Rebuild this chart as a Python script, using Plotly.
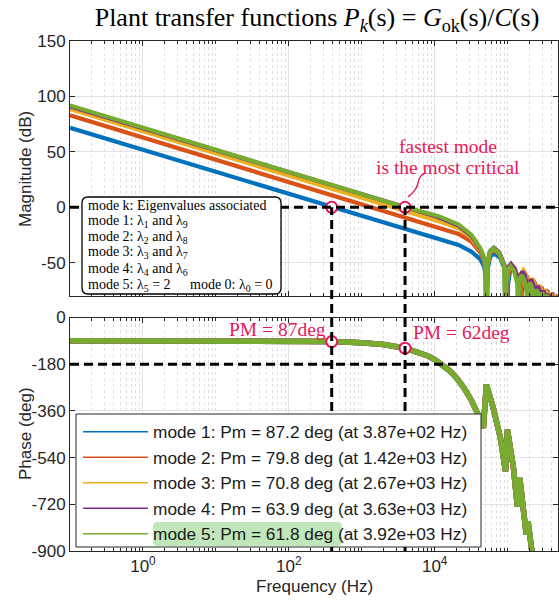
import math
import plotly.graph_objects as go

# ---------------- data ----------------
MODE_NAMES = ["mode 1", "mode 2", "mode 3", "mode 4", "mode 5"]
PM_DEG = [87.2, 79.8, 70.8, 63.9, 61.8]
PM_HZ = [387, 1420, 2670, 3630, 3920]
COLORS = ["#0072BD", "#D95319", "#EDB120", "#7E2F8E", "#77AC30"]

# magnitude curves: log10(frequency in Hz) and gain in dB
LOGF_M1 = [-1, 3.5, 4.056, 4.327, 4.504, 4.626, 4.68, 4.70, 4.708,
           4.722, 4.760, 4.817, 4.895, 4.973, 4.996,
           5.005, 5.030, 5.068, 5.119, 5.170, 5.185,
           5.192, 5.210, 5.237, 5.274, 5.311, 5.322,
           5.327, 5.341, 5.362, 5.391, 5.420, 5.428,
           5.432, 5.444, 5.461, 5.485, 5.508, 5.515,
           5.519, 5.528, 5.542, 5.562, 5.581, 5.587,
           5.590, 5.598, 5.611, 5.627, 5.644, 5.649,
           5.652, 5.659, 5.670, 5.685, 5.700, 5.704]
DB_M1 = [71.8, -18.2, -29, -34, -40, -47, -54, -63, -130,
         -56.5, -44.5, -41.5, -45.5, -57.5, -130,
         -70, -58, -55, -59, -71, -130,
         -76, -64, -61, -65, -77, -130,
         -82, -70, -67, -71, -83, -130,
         -87, -75, -72, -76, -88, -130,
         -90, -78, -75, -79, -91, -130,
         -92, -80, -77, -81, -93, -130,
         -94, -82, -79, -83, -95, -130]

LOGF_M2 = [-1, 3.5, 4.056, 4.327, 4.504, 4.626, 4.68, 4.70, 4.708,
           4.722, 4.758, 4.814, 4.889, 4.965, 4.987,
           4.996, 5.020, 5.058, 5.108, 5.158, 5.173,
           5.180, 5.197, 5.224, 5.260, 5.296, 5.307,
           5.312, 5.326, 5.347, 5.375, 5.404, 5.412,
           5.416, 5.427, 5.444, 5.467, 5.490, 5.497,
           5.501, 5.510, 5.524, 5.543, 5.562, 5.568,
           5.571, 5.579, 5.592, 5.608, 5.625, 5.630,
           5.633, 5.640, 5.651, 5.666, 5.681, 5.685]
DB_M2 = [83.0, -7.0, -18.5, -24, -31, -41, -49, -59, -130,
         -53.5, -41.5, -38.5, -42.5, -54.5, -130,
         -68, -56, -53, -57, -69, -130,
         -73, -61, -58, -62, -74, -130,
         -80, -68, -65, -69, -81, -130,
         -86, -74, -71, -75, -87, -130,
         -89, -77, -74, -78, -90, -130,
         -92, -80, -77, -81, -93, -130,
         -94, -82, -79, -83, -95, -130]

LOGF_M3 = [-1, 3.5, 4.056, 4.327, 4.504, 4.626, 4.68, 4.70, 4.708,
           4.722, 4.757, 4.812, 4.886, 4.960, 4.982,
           4.991, 5.015, 5.051, 5.100, 5.149, 5.164,
           5.171, 5.187, 5.213, 5.249, 5.284, 5.294,
           5.299, 5.313, 5.334, 5.362, 5.390, 5.398,
           5.402, 5.413, 5.430, 5.452, 5.474, 5.481,
           5.485, 5.494, 5.508, 5.528, 5.547, 5.553,
           5.556, 5.564, 5.576, 5.593, 5.609, 5.614,
           5.617, 5.624, 5.634, 5.648, 5.663, 5.667, 5.72]
DB_M3 = [88.5, -1.5, -12.5, -19, -27.5, -39, -47.5, -58, -130,
         -52.5, -40.5, -37.5, -41.5, -53.5, -130,
         -66.5, -54.5, -51.5, -55.5, -67.5, -130,
         -72, -60, -57, -61, -73, -130,
         -79, -67, -64, -68, -80, -130,
         -85, -73, -70, -74, -86, -130,
         -89, -77, -74, -78, -90, -130,
         -92, -80, -77, -81, -93, -130,
         -94, -82, -79, -83, -95, -130, -130]

LOGF_M4 = [-1, 3.5, 4.056, 4.327, 4.504, 4.626, 4.68, 4.70, 4.708,
           4.722, 4.757, 4.811, 4.884, 4.956, 4.978,
           4.987, 5.010, 5.045, 5.093, 5.141, 5.155,
           5.161, 5.178, 5.204, 5.238, 5.273, 5.283,
           5.288, 5.301, 5.321, 5.349, 5.376, 5.384,
           5.388, 5.399, 5.415, 5.437, 5.459, 5.465,
           5.469, 5.478, 5.492, 5.511, 5.529, 5.535,
           5.538, 5.546, 5.558, 5.574, 5.590, 5.595,
           5.598, 5.605, 5.615, 5.629, 5.644, 5.648, 5.72]
DB_M4 = [91.2, 1.2, -9, -16.5, -26, -38, -46.5, -57.5, -130,
         -51.5, -39.5, -36.5, -40.5, -52.5, -130,
         -66, -54, -51, -55, -67, -130,
         -73, -61, -58, -62, -74, -130,
         -80, -68, -65, -69, -81, -130,
         -86, -74, -71, -75, -87, -130,
         -90, -78, -75, -79, -91, -130,
         -93, -81, -78, -82, -94, -130,
         -95, -83, -80, -84, -96, -130, -130]

LOGF_M5 = [-1, 3.5, 4.056, 4.327, 4.504, 4.626, 4.68, 4.70, 4.708,
           4.721, 4.756, 4.809, 4.880, 4.952, 4.973,
           4.982, 5.004, 5.039, 5.085, 5.132, 5.146,
           5.152, 5.168, 5.193, 5.227, 5.260, 5.270,
           5.275, 5.287, 5.307, 5.333, 5.359, 5.367,
           5.371, 5.381, 5.397, 5.419, 5.441, 5.447,
           5.450, 5.459, 5.473, 5.491, 5.510, 5.515,
           5.518, 5.525, 5.537, 5.553, 5.568, 5.573,
           5.576, 5.582, 5.592, 5.606, 5.620, 5.624, 5.72]
DB_M5 = [91.9, 1.9, -8, -15.5, -25, -37, -46, -57, -130,
         -52, -40, -37, -41, -53, -130,
         -68, -56, -53, -57, -69, -130,
         -76, -64, -61, -65, -77, -130,
         -83, -71, -68, -72, -84, -130,
         -89, -77, -74, -78, -90, -130,
         -92, -80, -77, -81, -93, -130,
         -94, -82, -79, -83, -95, -130,
         -96, -84, -81, -85, -97, -130, -130]

# phase (identical for all modes): log10(frequency in Hz) and degrees
PH_LOGF = [-1, 2.0, 2.588, 3.0, 3.3, 3.593, 3.783, 3.9, 4.0, 4.1, 4.2, 4.3,
           4.4, 4.5, 4.55, 4.6, 4.667, 4.708, 4.80, 4.90, 4.970, 4.997, 5.08,
           5.133, 5.166, 5.22, 5.255, 5.279, 5.323, 5.36]
PH_DEG = [-90, -90.7, -92.8, -97.2, -104.4, -118.2, -133.7, -147.2, -162,
          -180.7, -204, -233.6, -270.9, -317.7, -345.6, -376.7, -424.8, -259,
          -346, -463.5, -593, -432, -581, -728, -619, -759, -837, -786, -900,
          -960]

# crossover / phase-margin markers (slowest and fastest modes)
MARK_HZ = [387, 3920]
MARK_DB = [0, 0]
MARK_PH = [-92.8, -118.2]

MAG_TICKS = [-50, 0, 50, 100, 150]
PH_TICKS = [-900, -720, -540, -360, -180, 0]
X_TICKS = [1, 100, 10000]
X_TICKTEXT = ["10<sup>0</sup>", "10<sup>2</sup>", "10<sup>4</sup>"]

BOX_LINES = ["mode k: Eigenvalues associated",
             "mode 1: λ<sub>1</sub> and λ<sub>9</sub>",
             "mode 2: λ<sub>2</sub> and λ<sub>8</sub>",
             "mode 3: λ<sub>3</sub> and λ<sub>7</sub>",
             "mode 4: λ<sub>4</sub> and λ<sub>6</sub>",
             "mode 5: λ<sub>5</sub> = 2"]
BOX_EXTRA = "mode 0: λ<sub>0</sub> = 0"

# ---------------- layout helpers ----------------
W, H = 559, 601
ML, MR, MT, MB = 70, 1, 41, 50
PW = W - ML - MR
PH = H - MT - MB


def px(x):
    return (x - ML) / PW


def py(y):
    return (H - MB - y) / PH


def rrect(x0, y0, x1, y1, r):
    rx, ry = r / PW, r / PH
    X0, X1, Y0, Y1 = px(x0), px(x1), py(y0), py(y1)
    return (f"M {X0+rx},{Y0} L {X1-rx},{Y0} Q {X1},{Y0} {X1},{Y0-ry} "
            f"L {X1},{Y1+ry} Q {X1},{Y1} {X1-rx},{Y1} L {X0+rx},{Y1} "
            f"Q {X0},{Y1} {X0},{Y1+ry} L {X0},{Y0-ry} Q {X0},{Y0} {X0+rx},{Y0} Z")


SANS = "Liberation Sans, Arial, sans-serif"
SERIF = "Liberation Serif, Times New Roman, serif"
INK = "#262626"
RED = "#E8185A"

fig = go.Figure()

mag_sets = [(LOGF_M1, DB_M1), (LOGF_M2, DB_M2), (LOGF_M3, DB_M3),
            (LOGF_M4, DB_M4), (LOGF_M5, DB_M5)]
for (lf, db), c in zip(mag_sets, COLORS):
    fig.add_trace(go.Scatter(x=[10 ** v for v in lf], y=db, mode="lines",
                             line=dict(color=c, width=4.2), showlegend=False,
                             xaxis="x", yaxis="y", hoverinfo="skip"))

for c in COLORS:
    fig.add_trace(go.Scatter(x=[10 ** v for v in PH_LOGF], y=PH_DEG, mode="lines",
                             line=dict(color=c, width=5.5), showlegend=False,
                             xaxis="x2", yaxis="y2", hoverinfo="skip"))

# legend-only entries (thin line samples)
for name, pm, hz, c in zip(MODE_NAMES, PM_DEG, PM_HZ, COLORS):
    fig.add_trace(go.Scatter(x=[None], y=[None], mode="lines",
                             line=dict(color=c, width=1.5),
                             name=f"{name}: Pm = {pm:.1f} deg (at {hz:.2e} Hz)",
                             xaxis="x2", yaxis="y2"))

# dashed guide lines
dash = dict(color="black", width=3, dash="9px,5px")
shapes = [
    dict(type="line", xref="paper", yref="y", x0=0, x1=1, y0=0, y1=0,
         line=dash, layer="above"),
    dict(type="line", xref="paper", yref="y2", x0=0, x1=1, y0=-180, y1=-180,
         line=dash, layer="above"),
]
y0db = 0.5 + 0.5 * 80 / 230
for f in MARK_HZ:
    shapes.append(dict(type="line", xref="x", yref="paper", x0=f, x1=f,
                       y0=0, y1=y0db, line=dash, layer="above"))

# text box in the magnitude plot
shapes.append(dict(type="path", xref="paper", yref="paper",
                   path=rrect(82, 197, 281, 294, 6),
                   fillcolor="white", line=dict(color="black", width=1.3),
                   layer="above"))
# legend box + highlight in the phase plot
shapes.append(dict(type="rect", xref="paper", yref="paper",
                   x0=px(76), x1=px(481), y0=py(547), y1=py(414),
                   fillcolor="white", line=dict(color=INK, width=1),
                   layer="above"))
shapes.append(dict(type="path", xref="paper", yref="paper",
                   path=rrect(153, 522, 342, 546, 5),
                   fillcolor="rgba(150,215,140,0.6)", line=dict(width=0),
                   layer="above"))
# leader curve
pts = [(408, 197), (413, 193), (417, 189), (418, 183), (419, 177), (421, 175), (425, 173)]
P = [(px(a), py(b)) for a, b in pts]
leader = (f"M {P[0][0]},{P[0][1]} C {P[1][0]},{P[1][1]} {P[2][0]},{P[2][1]} {P[3][0]},{P[3][1]} "
          f"C {P[4][0]},{P[4][1]} {P[5][0]},{P[5][1]} {P[6][0]},{P[6][1]}")
shapes.append(dict(type="path", xref="paper", yref="paper", path=leader,
                   line=dict(color=RED, width=1.5), layer="above"))

# markers
mk = dict(symbol="circle", size=11, color="white", line=dict(color=RED, width=2))
fig.add_trace(go.Scatter(x=MARK_HZ, y=MARK_DB, mode="markers", marker=mk,
                         showlegend=False, xaxis="x", yaxis="y", cliponaxis=False))
fig.add_trace(go.Scatter(x=MARK_HZ, y=MARK_PH, mode="markers", marker=mk,
                         showlegend=False, xaxis="x2", yaxis="y2", cliponaxis=False))

annotations = []
# box texts
line_y = [206, 222, 237.5, 253, 269, 285]
for t, yy in zip(BOX_LINES, line_y):
    annotations.append(dict(text=t, xref="paper", yref="paper", x=px(86), y=py(yy),
                            xanchor="left", yanchor="middle", showarrow=False,
                            font=dict(family=SERIF, size=14, color="black")))
annotations.append(dict(text=BOX_EXTRA, xref="paper", yref="paper", x=px(188), y=py(285),
                        xanchor="left", yanchor="middle", showarrow=False,
                        font=dict(family=SERIF, size=14, color="black")))
# red notes
for t, xx, yy in [("fastest mode", 448, 146), ("is the most critical", 448, 167),
                  ("PM = 87deg", 277, 329), ("PM = 62deg", 461, 332)]:
    annotations.append(dict(text=t, xref="paper", yref="paper", x=px(xx), y=py(yy),
                            xanchor="center", yanchor="middle", showarrow=False,
                            font=dict(family=SERIF, size=19.5, color=RED)))
# axis titles
annotations.append(dict(text="Magnitude (dB)", xref="paper", yref="paper",
                        x=px(25), y=py(169), textangle=-90, showarrow=False,
                        xanchor="center", yanchor="middle",
                        font=dict(family=SANS, size=17, color=INK)))
annotations.append(dict(text="Phase (deg)", xref="paper", yref="paper",
                        x=px(25), y=py(434), textangle=-90, showarrow=False,
                        xanchor="center", yanchor="middle",
                        font=dict(family=SANS, size=17, color=INK)))
annotations.append(dict(text="Frequency (Hz)", xref="paper", yref="paper",
                        x=px(314), y=py(586), showarrow=False,
                        xanchor="center", yanchor="middle",
                        font=dict(family=SANS, size=17, color=INK)))

minor_vals = []
for e in range(-1, 6):
    for m in range(1, 10):
        v = m * 10 ** e
        if v not in X_TICKS:
            minor_vals.append(v)

xcommon = dict(type="log", range=[-1, 5.69], tickvals=X_TICKS, ticktext=X_TICKTEXT,
               showline=True, linecolor=INK, linewidth=1, mirror="ticks",
               ticks="inside", ticklen=5, tickcolor=INK,
               showgrid=True, gridcolor="#e3e3e3", gridwidth=1, zeroline=False,
               tickfont=dict(family=SANS, size=17, color=INK),
               minor=dict(tickmode="array", tickvals=minor_vals, ticks="inside",
                          ticklen=3, tickcolor=INK, showgrid=True,
                          gridcolor="#dedede", griddash="dot", gridwidth=1))
ycommon = dict(showline=True, linecolor=INK, linewidth=1, mirror="ticks",
               ticks="inside", ticklen=5, tickcolor=INK,
               showgrid=True, gridcolor="#e3e3e3", gridwidth=1, zeroline=False,
               tickfont=dict(family=SANS, size=17, color=INK))

fig.update_layout(
    width=W, height=H,
    margin=dict(l=ML, r=MR, t=MT, b=MB),
    paper_bgcolor="white", plot_bgcolor="white",
    title=dict(text="Plant transfer functions <i>P<sub>k</sub></i>(s) = <i>G</i><sub>ok</sub>(s)/<i>C</i>(s)",
               x=317 / W, y=1 - 17 / H, xref="container",
               yref="container", xanchor="center", yanchor="middle",
               font=dict(family=SERIF, size=26, color="black")),
    xaxis=dict(domain=[0, 1], anchor="y", showticklabels=False, **xcommon),
    yaxis=dict(domain=[0.5, 1], anchor="x", range=[-80, 150], tickvals=MAG_TICKS,
               ticktext=[str(v) for v in MAG_TICKS], **ycommon),
    xaxis2=dict(domain=[0, 1], anchor="y2", **xcommon),
    yaxis2=dict(domain=[0, py(317.5)], anchor="x2", range=[-900, 0], tickvals=PH_TICKS,
                ticktext=[str(v) for v in PH_TICKS], **ycommon),
    shapes=shapes,
    annotations=annotations,
    showlegend=True,
    legend=dict(x=px(78), y=py(414), xanchor="left", yanchor="top",
                bgcolor="rgba(0,0,0,0)", borderwidth=0, itemwidth=65,
                font=dict(family=SANS, size=17.3, color="#1a1a1a"),
                traceorder="normal", tracegroupgap=0),
)

fig.write_html("out.html")
